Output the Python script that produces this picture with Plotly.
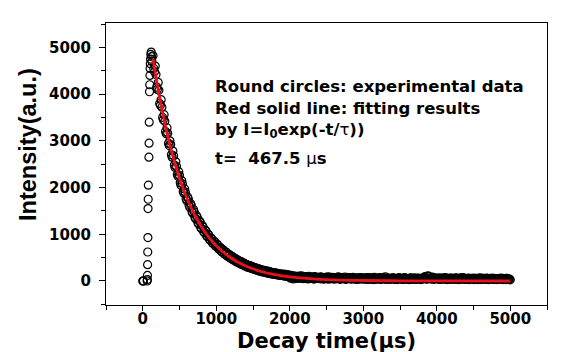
import plotly.graph_objects as go

# ---- data ----
rise_t = [0, 5, 10, 60, 62, 64, 66, 68, 70, 72, 74, 76, 84, 86, 88,
          92, 95, 98, 100, 103, 106, 110, 115, 120, 125]
rise_i = [0, 0, 0, 0, 30, 120, 350, 620, 930, 1550, 1750, 2050, 2650, 2950, 3400,
          4050, 4200, 4400, 4550, 4650, 4750, 4850, 4900, 4800, 4700]

# first sweep of samples (every 20 us from 140 us)
decay_i = [
    4820, 4480, 4420, 4100, 4080, 3760, 3720, 3450, 3420, 3150,
    3160, 2900, 2920, 2650, 2680, 2430, 2450, 2240, 2260, 2050,
    2080, 1880, 1900, 1720, 1760, 1580, 1620, 1450, 1480, 1330,
    1370, 1220, 1260, 1120, 1160, 1030, 1070, 950, 980, 870,
    900, 800, 840, 740, 770, 680, 710, 620, 660, 570,
    610, 530, 560, 480, 520, 450, 480, 410, 440, 380,
    410, 350, 380, 320, 350, 300, 330, 270, 300, 250,
    280, 230, 260, 210, 240, 200, 220, 180, 210, 170,
    190, 150, 180, 140, 170, 130, 150, 120, 150, 110,
    140, 100, 130, 95,
    120, 80, 110, 70, 100, 90, 60, 110, 75, 95,
    85, 55, 100, 70, 90, 50, 95, 65, 80, 55,
    90, 45, 75, 60, 85, 40, 70, 55, 80, 45,
    65, 50, 90, 40, 70, 55, 60, 35, 75, 50,
    60, 40, 80, 45, 55, 35, 70, 50, 45, 65,
    40, 60, 35, 75, 45, 55, 30, 65, 50, 40,
    70, 35, 55, 45, 90, 40, 60, 35, 50, 65,
    40, 55, 30, 60, 45, 50, 35, 70, 40, 55,
    30, 60, 45, 40, 65, 35, 55, 45, 30, 60,
    50, 95, 40, 110, 55, 45, 85, 35, 60, 50,
    40, 65, 35, 55, 45, 70, 30, 50, 60, 40,
    55, 35, 65, 45, 30, 60, 40, 75, 35, 50,
    45, 30, 55, 40, 60, 35, 50, 30, 65, 40,
    35, 55, 40, 60, 30, 50, 45, 35, 55, 40,
    30, 50, 40, 60, 35, 45, 30, 55, 40, 25,
]

# second sweep of samples (every 20 us from 150 us)
decay2_i = [
    4550, 4600, 4150, 4250, 3800, 3880, 3500, 3560, 3200, 3280,
    2950, 3000, 2700, 2780, 2480, 2550, 2280, 2340, 2100, 2150,
    1920, 1970, 1760, 1800, 1620, 1660, 1480, 1530, 1360, 1400,
    1250, 1290, 1140, 1190, 1050, 1090, 960, 1000, 880, 920,
    810, 850, 750, 790, 690, 720, 630, 670, 580, 620,
    530, 570, 490, 530, 450, 490, 410, 450, 380, 420,
    350, 390, 320, 350, 290, 330, 270, 300, 250, 280,
    230, 260, 210, 240, 190, 230, 180, 210, 160, 200,
    150, 180, 140, 170, 130, 160, 120, 150, 110, 140,
    100, 130, 95,
    60, 100, 45, 90, 70, 55, 105, 65, 85, 50,
    75, 95, 45, 80, 60, 70, 40, 85, 55, 75,
    50, 80, 65, 40, 70, 55, 90, 45, 60, 75,
    45, 70, 55, 80, 35, 65, 50, 85, 40, 60,
    70, 45, 55, 75, 40, 60, 35, 55, 70, 45,
    55, 40, 70, 50, 35, 65, 45, 80, 40, 55,
    45, 60, 40, 75, 50, 35, 60, 45, 55, 40,
    65, 35, 50, 45, 70, 40, 55, 35, 60, 45,
    50, 40, 65, 35, 55, 45, 40, 60, 50, 35,
    45, 70, 55, 40, 100, 60, 45, 70, 40, 55,
    60, 35, 50, 45, 65, 40, 55, 45, 35, 60,
    40, 55, 45, 60, 35, 50, 65, 40, 55, 45,
    35, 60, 40, 50, 45, 30, 55, 40, 50, 35,
    60, 40, 50, 35, 55, 45, 40, 60, 35, 50,
    45, 35, 55, 40, 50, 30, 45, 55, 35, 40,
]
decay_t = [140 + 20 * k for k in range(len(decay_i))]
decay2_t = [150 + 20 * k for k in range(len(decay2_i))]

fit_t = [140, 200, 300, 400, 500, 600, 700, 800, 900, 1000, 1200, 1400,
         1600, 1800, 2000, 2500, 3000, 3500, 4000, 5000]
fit_i = [4750, 4178, 3374, 2724, 2199, 1776, 1434, 1158, 935, 755, 492, 321,
         209, 136, 89, 30, 10, 4, 1, 0]

x_ticks = [0, 1000, 2000, 3000, 4000, 5000]
y_ticks = [0, 1000, 2000, 3000, 4000, 5000]

notes = [
    "Round circles: experimental data",
    "Red solid line: fitting results",
    "by I=I<sub>0</sub>exp(-t/<span style='font-weight:normal'>τ</span>))",
    "t=  467.5 <span style='font-weight:normal'>μ</span>s",
]

# ---- figure ----
W, H = 562, 352
L, R, T, B = 106, 15, 23, 47
pw, ph = W - L - R, H - T - B

def px(x):
    return (x - L) / pw

def py(y):
    return (H - B - y) / ph

TXT = "DejaVu Sans"

fig = go.Figure()
fig.add_trace(go.Scatter(
    x=rise_t + decay_t + decay2_t, y=rise_i + decay_i + decay2_i, mode="markers",
    marker=dict(symbol="circle-open", size=8, color="black", line=dict(width=1.2)),
    hoverinfo="skip", showlegend=False))
fig.add_trace(go.Scatter(
    x=fit_t, y=fit_i, mode="lines", line=dict(color="#e8101a", width=2.8, shape="spline"),
    hoverinfo="skip", showlegend=False))

axis_common = dict(
    showgrid=False, zeroline=False, showline=True, linecolor="black", linewidth=1.3,
    mirror=True, ticks="outside", tickwidth=1.3, tickcolor="black",
    tickfont=dict(family=TXT, size=15, color="black", weight="bold"),
)
fig.update_xaxes(range=[-500, 5500], tickvals=x_ticks, ticklen=5,
                 minor=dict(ticks="outside", ticklen=4, tickwidth=1.3, dtick=500, tick0=0,
                            tickcolor="black", showgrid=False),
                 ticklabelstandoff=-5, **axis_common)
fig.update_yaxes(range=[-514, 5522], tickvals=y_ticks, ticklen=6,
                 minor=dict(ticks="outside", ticklen=4, tickwidth=1.3, dtick=500, tick0=0,
                            tickcolor="black", showgrid=False),
                 ticklabelstandoff=5, **axis_common)

ann = []
ys = [86.7, 108.3, 130, 158]
for t, y in zip(notes, ys):
    ann.append(dict(text=t, x=px(213), y=py(y), xref="paper", yref="paper",
                    xanchor="left", yanchor="middle", showarrow=False,
                    font=dict(family=TXT, size=16.5, color="black", weight="bold")))
ann.append(dict(text="Decay time(μs)", x=px(326), y=py(341), xref="paper", yref="paper",
                xanchor="center", yanchor="middle", showarrow=False,
                font=dict(family=TXT, size=21, color="black", weight="bold")))
ann.append(dict(text="Intensity(a.u.)", x=px(28), y=py(145), xref="paper", yref="paper",
                xanchor="center", yanchor="middle", showarrow=False, textangle=-90,
                font=dict(family="Liberation Sans", size=23.5, color="black", weight="bold")))

fig.update_layout(
    width=W, height=H, margin=dict(l=L, r=R, t=T, b=B),
    paper_bgcolor="white", plot_bgcolor="white", annotations=ann,
)
fig.write_html("out.html")
